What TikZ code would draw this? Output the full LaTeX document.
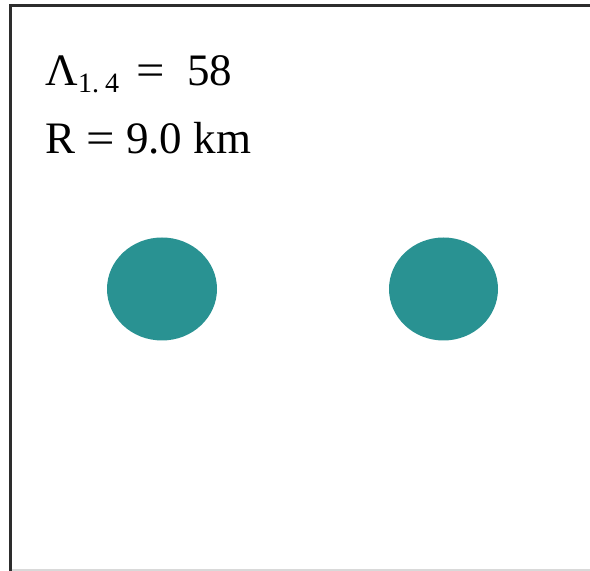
\documentclass[tikz,border=0pt]{standalone}
\usepackage{fontspec}
\setmainfont{Liberation Serif}
\definecolor{teal1}{RGB}{41,146,146}
\definecolor{frameC}{RGB}{45,45,45}
\newcommand{\weq}{\scalebox{1.12}[1]{=}}
\begin{document}
\begin{tikzpicture}[x=1pt,y=1pt,
  star/.style={fill=teal1,draw=none},
  lbl/.style={inner sep=0pt,anchor=base west,font=\fontsize{45}{52}\selectfont},
  sub/.style={inner sep=0pt,anchor=base west,font=\fontsize{28}{32}\selectfont}]
\useasboundingbox (0,0) rectangle (590,571);
\fill[white] (0,0) rectangle (590,571);
% frame
\draw[frameC,line width=3pt] (10,0) -- (10,565) -- (590,565);
\draw[gray!30,line width=1.5pt] (11.5,0.8) -- (590,0.8);
% text
\node[lbl] (lam) at (45,485) {Λ};
\node[sub] (s) at (78,478) {1.\hspace{6pt}4};
\node[lbl] (eq) at (136,485) {\weq};
\node[lbl] (n) at (187,485) {58};
\node[lbl] (R) at (45,417) {R \weq{} 9.0 km};
% stars
\fill[star] (162,282) ellipse [x radius=55, y radius=51.5];
\fill[star] (443.5,282) ellipse [x radius=54.5, y radius=51.5];
\end{tikzpicture}
\end{document}
